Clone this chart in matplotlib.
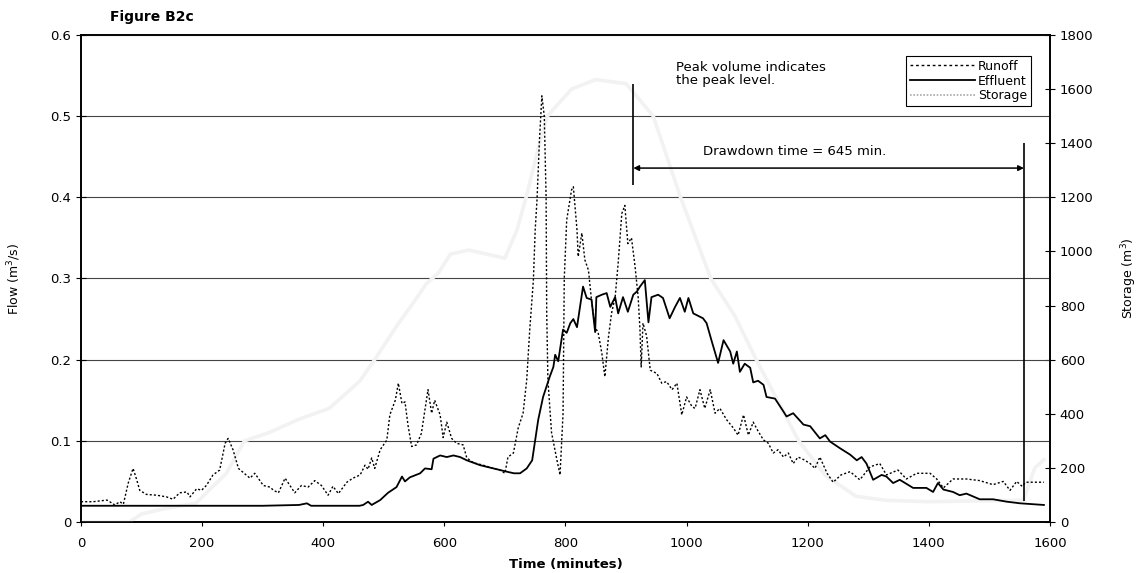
import matplotlib
matplotlib.use('Agg')
import matplotlib.pyplot as plt

# Runoff (m3/s)
runoff_t = [0, 20, 43, 56, 64, 70, 78, 86, 92, 97, 108, 125, 141, 152, 163, 175, 180, 191, 199, 207,
            218, 229, 238, 243, 251, 260, 268, 279, 287, 301, 312, 318, 326, 337, 345, 353, 364, 375,
            386, 397, 408, 416, 425, 439, 449, 461, 469, 474, 480, 485, 494, 505, 510, 519, 524, 530,
            535, 540, 546, 554, 562, 573, 579, 584, 593, 598, 604, 612, 620, 631, 637, 648, 664, 681,
            692, 700, 705, 714, 722, 730, 736, 741, 747, 750, 753, 757, 761, 765, 768, 769, 771, 777,
            786, 791, 796, 798, 802, 810, 813, 819, 821, 827, 832, 838, 843, 849, 854, 860, 865, 871,
            876, 882, 887, 893, 898, 903, 909, 915, 920, 923, 925, 928, 934, 940, 951, 959, 967, 976,
            984, 992, 1000, 1009, 1014, 1022, 1030, 1039, 1047, 1055, 1066, 1077, 1085, 1094, 1102,
            1110, 1118, 1127, 1135, 1143, 1151, 1160, 1168, 1176, 1184, 1193, 1204, 1212, 1220, 1232,
            1242, 1255, 1270, 1286, 1303, 1319, 1330, 1349, 1363, 1380, 1402, 1413, 1424, 1440, 1462,
            1484, 1506, 1523, 1534, 1545, 1554, 1560, 1590]
runoff = [0.025, 0.025, 0.027, 0.021, 0.025, 0.022, 0.048, 0.066, 0.052, 0.039, 0.034, 0.033, 0.031,
          0.028, 0.036, 0.037, 0.031, 0.041, 0.039, 0.045, 0.058, 0.064, 0.097, 0.103, 0.089, 0.066,
          0.061, 0.054, 0.060, 0.045, 0.043, 0.039, 0.036, 0.054, 0.045, 0.036, 0.045, 0.043, 0.051,
          0.045, 0.033, 0.044, 0.035, 0.049, 0.054, 0.058, 0.070, 0.065, 0.079, 0.066, 0.089, 0.101,
          0.132, 0.150, 0.171, 0.146, 0.148, 0.119, 0.093, 0.095, 0.109, 0.163, 0.134, 0.150, 0.132,
          0.104, 0.123, 0.103, 0.097, 0.095, 0.079, 0.073, 0.070, 0.066, 0.064, 0.060, 0.080, 0.085,
          0.116, 0.134, 0.175, 0.237, 0.298, 0.360, 0.397, 0.470, 0.525, 0.500, 0.400, 0.257, 0.175,
          0.110, 0.076, 0.058, 0.134, 0.300, 0.372, 0.409, 0.413, 0.360, 0.327, 0.356, 0.323, 0.310,
          0.273, 0.240, 0.233, 0.208, 0.179, 0.228, 0.257, 0.277, 0.319, 0.380, 0.390, 0.343, 0.350,
          0.314, 0.277, 0.237, 0.191, 0.245, 0.229, 0.187, 0.183, 0.171, 0.173, 0.163, 0.171, 0.132,
          0.154, 0.142, 0.140, 0.163, 0.140, 0.163, 0.134, 0.140, 0.126, 0.116, 0.107, 0.132, 0.107,
          0.123, 0.112, 0.101, 0.097, 0.085, 0.089, 0.080, 0.085, 0.072, 0.080, 0.077, 0.072, 0.066,
          0.080, 0.060, 0.049, 0.058, 0.062, 0.052, 0.068, 0.072, 0.058, 0.064, 0.053, 0.060, 0.060,
          0.053, 0.042, 0.053, 0.053, 0.051, 0.046, 0.050, 0.039, 0.050, 0.044, 0.049, 0.049]

# Effluent (m3/s)
effluent_t = [0, 100, 200, 300, 360, 373, 380, 460, 466, 474, 480, 494, 507, 521, 530, 535, 543, 560,
              568, 579, 582, 593, 604, 615, 626, 637, 648, 659, 670, 681, 692, 703, 715, 725, 736, 745,
              750, 755, 763, 774, 780, 783, 788, 796, 802, 808, 813, 819, 829, 835, 843, 849, 851, 860,
              868, 874, 882, 887, 895, 903, 912, 918, 923, 931, 937, 942, 953, 961, 972, 981, 989, 997,
              1003, 1011, 1027, 1033, 1041, 1052, 1061, 1072, 1077, 1083, 1088, 1096, 1105, 1110, 1118,
              1127, 1132, 1146, 1160, 1165, 1176, 1193, 1204, 1220, 1229, 1237, 1253, 1270, 1281, 1289,
              1297, 1308, 1322, 1330, 1341, 1352, 1374, 1396, 1407, 1415, 1424, 1440, 1451, 1462, 1484,
              1506, 1529, 1551, 1590]
effluent = [0.020, 0.020, 0.020, 0.020, 0.021, 0.023, 0.020, 0.020, 0.021, 0.025, 0.021, 0.027, 0.036,
            0.043, 0.056, 0.050, 0.055, 0.060, 0.066, 0.065, 0.078, 0.082, 0.080, 0.082, 0.080, 0.076,
            0.073, 0.070, 0.068, 0.066, 0.064, 0.062, 0.060, 0.060, 0.066, 0.076, 0.101, 0.126, 0.154,
            0.179, 0.191, 0.206, 0.198, 0.237, 0.233, 0.245, 0.250, 0.240, 0.290, 0.276, 0.274, 0.234,
            0.277, 0.280, 0.282, 0.265, 0.277, 0.257, 0.277, 0.259, 0.280, 0.284, 0.290, 0.298, 0.246,
            0.277, 0.280, 0.276, 0.251, 0.265, 0.276, 0.259, 0.276, 0.257, 0.251, 0.245, 0.224, 0.196,
            0.224, 0.210, 0.195, 0.210, 0.185, 0.195, 0.190, 0.172, 0.174, 0.169, 0.154, 0.152, 0.136,
            0.130, 0.134, 0.120, 0.118, 0.103, 0.107, 0.099, 0.091, 0.083, 0.076, 0.080, 0.072, 0.052,
            0.058, 0.056, 0.048, 0.052, 0.042, 0.042, 0.037, 0.048, 0.040, 0.037, 0.033, 0.035, 0.028,
            0.028, 0.025, 0.023, 0.021]

# Storage (m3), right axis
storage_t = [0, 80, 100, 140, 190, 240, 270, 310, 360, 410, 460, 485, 520, 555, 570, 590, 610, 640,
             700, 720, 735, 755, 770, 810, 850, 900, 945, 990, 1040, 1080, 1115, 1150, 1185, 1230,
             1280, 1330, 1400, 1480, 1556, 1575, 1590]
storage = [0, 0, 30, 50, 70, 180, 300, 330, 380, 420, 520, 600, 720, 830, 880, 920, 990, 1005, 975,
           1080, 1200, 1380, 1500, 1600, 1635, 1620, 1500, 1200, 900, 760, 600, 450, 300, 170, 95,
           80, 75, 78, 80, 200, 230]

flow_ticks = [0, 0.1, 0.2, 0.3, 0.4, 0.5, 0.6]
flow_labels = ['0', '0.1', '0.2', '0.3', '0.4', '0.5', '0.6']
storage_ticks = list(range(0, 1801, 200))
time_ticks = list(range(0, 1601, 200))

drawdown_start = 912
drawdown_end = 1557

plt.rcParams['font.family'] = ['DejaVu Sans']
fig = plt.figure(figsize=(11.44, 5.73), dpi=100)
ax = fig.add_axes([0.0708, 0.089, 0.847, 0.850])
ax2 = ax.twinx()
ax2.set_ylim(0, 1800)
ax2.set_yticks(storage_ticks)
ax2.tick_params(axis='y', direction='inout', length=7, labelsize=9.5)

# left axes in front so the storage trace sits between the grid and the flow lines
ax.set_zorder(ax2.get_zorder() + 1)
ax.patch.set_visible(False)

ax.set_axisbelow(True)
ax.yaxis.grid(True, color='#444444', lw=0.8)

# storage drawn with the right axis scale, almost white like the scan
ln_sto, = ax.plot(storage_t, storage, color='#f2f2f2', lw=2.6, label='Storage',
                  transform=ax2.transData, zorder=1.5)
ln_run, = ax.plot(runoff_t, runoff, color='black', lw=1.0, ls=(0, (1.5, 1.5)), label='Runoff', zorder=2)
ln_eff, = ax.plot(effluent_t, effluent, color='black', lw=1.3, label='Effluent', zorder=2)

ax.set_xlim(0, 1600)
ax.set_ylim(0, 0.6)
ax.set_xticks(time_ticks)
ax.set_yticks(flow_ticks)
ax.set_yticklabels(flow_labels)
ax.tick_params(axis='y', direction='inout', length=7, labelsize=9.5)
ax.tick_params(axis='x', direction='out', length=3, labelsize=9.5, pad=8)
for s in list(ax.spines.values()) + list(ax2.spines.values()):
    s.set_linewidth(1.2)

# drawdown annotation
ax.vlines(drawdown_start, 0.415, 0.54, color='black', lw=1.2)
ax.vlines(drawdown_end, 0.026, 0.467, color='black', lw=1.2)
ax.annotate('', xy=(drawdown_start, 0.436), xytext=(drawdown_end, 0.436),
            arrowprops=dict(arrowstyle='<|-|>', color='black', lw=1.1, mutation_scale=8,
                            shrinkA=0, shrinkB=0))
ax.text(1179, 0.457, 'Drawdown time = 645 min.', ha='center', va='center', fontsize=9.5)
ax.text(982, 0.568, 'Peak volume indicates\nthe peak level.', ha='left', va='top',
        fontsize=9.5, linespacing=1.05)

leg = ax.legend(handles=[ln_run, ln_eff, ln_sto], loc='upper right',
                bbox_to_anchor=(0.98, 0.957), fontsize=9, frameon=True, fancybox=False,
                edgecolor='black', handlelength=5.2, handletextpad=0.2, labelspacing=0.15,
                borderpad=0.3, borderaxespad=0, framealpha=1)
leg.get_frame().set_linewidth(0.8)
leg.get_lines()[0].set_linestyle((0, (2, 2)))
leg.get_lines()[2].set_color('#a8a8a8')
leg.get_lines()[2].set_linewidth(1.2)
leg.get_lines()[2].set_linestyle((0, (1, 1)))

ax.set_ylabel('Flow (m$^3$/s)', fontsize=9)
ax.yaxis.set_label_coords(-0.06, 0.5)
ax2.set_ylabel('Storage (m$^3$)', fontsize=9)
ax2.yaxis.set_label_coords(1.072, 0.5)
ax.set_xlabel('Time (minutes)', fontsize=9.5, fontweight='bold')
ax.xaxis.set_label_coords(0.5, -0.074)

fig.text(110 / 1144, 1 - 17 / 573, 'Figure B2c', fontsize=10, fontweight='bold',
         ha='left', va='center')

fig.savefig('out.png', dpi=100)
